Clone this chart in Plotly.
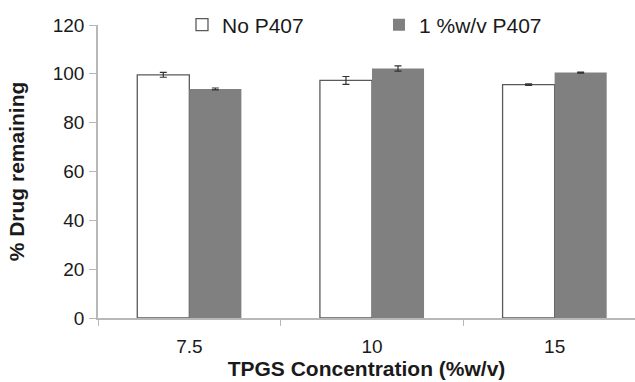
import plotly.graph_objects as go

categories = ["7.5", "10", "15"]
no_p407 = [99.6, 97.3, 95.6]
no_p407_err = [1.0, 1.6, 0.3]
p407 = [93.8, 102.2, 100.5]
p407_err = [0.4, 1.1, 0.2]
series_names = ["No P407", "1 %w/v P407"]

font_family = "Liberation Sans, Arial, sans-serif"

fig = go.Figure()
fig.add_trace(go.Bar(
    x=categories, y=no_p407, name=series_names[0],
    marker=dict(color="white", line=dict(color="#5a5a5a", width=1.3)),
    error_y=dict(type="data", array=no_p407_err, color="#333333", thickness=1.2, width=3.5),
))
fig.add_trace(go.Bar(
    x=categories, y=p407, name=series_names[1],
    marker=dict(color="#808080", line=dict(color="#808080", width=0)),
    error_y=dict(type="data", array=p407_err, color="#333333", thickness=1.2, width=3.5),
))

fig.update_layout(
    width=635, height=382,
    margin=dict(l=98, r=0, t=25, b=64),
    paper_bgcolor="white", plot_bgcolor="white",
    barmode="group", bargap=0.43, bargroupgap=0,
    font=dict(family=font_family, size=19, color="#1a1a1a"),
    showlegend=True,
    legend=dict(orientation="h", x=0.1564, y=1.0, xanchor="left", yanchor="middle",
                font=dict(size=21), itemwidth=30, entrywidth=152, entrywidthmode="pixels",
                bgcolor="rgba(0,0,0,0)"),
    xaxis=dict(
        type="category", range=[-0.5, 2.44], automargin=False,
        showline=True, linecolor="#b8b8b8", linewidth=1.5,
        ticks="outside", tickson="boundaries", ticklen=6, tickcolor="#b8b8b8",
        ticklabelstandoff=10,
        showgrid=False, zeroline=False,
        title=dict(text="<b>TPGS Concentration (%w/v)</b>", standoff=6, font=dict(size=21)),
    ),
    yaxis=dict(
        range=[0, 120], dtick=20, automargin=False,
        showline=True, linecolor="#b8b8b8", linewidth=1.5,
        ticks="outside", ticklen=7, tickcolor="#b8b8b8",
        ticklabelstandoff=1,
        showgrid=False, zeroline=False,
        title=dict(text="<b>% Drug remaining</b>", standoff=22, font=dict(size=21)),
    ),
)

fig.write_html("out.html", config={"displayModeBar": False},
               post_script="document.body.style.margin='0px';")
